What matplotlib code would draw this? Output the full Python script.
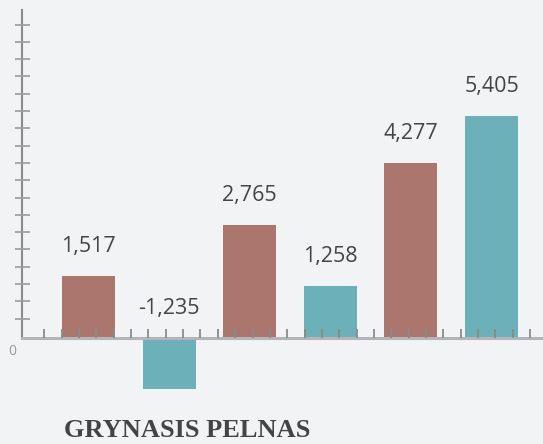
import numpy as np
import matplotlib.pyplot as plt

# duomenys
values = [1517, -1235, 2765, 1258, 4277, 5405]
labels = ['1,517', '-1,235', '2,765', '1,258', '4,277', '5,405']
colors = ['#aa766d', '#6cb0b9', '#aa766d', '#6cb0b9', '#aa766d', '#6cb0b9']
title = 'GRYNASIS PELNAS'

W, H = 543, 444
bg = '#f2f3f5'
px_per_unit = 0.041          # vertical scale, pixels per value unit
bar_step = 80.6              # pixels between bar centres

fig = plt.figure(figsize=(W / 100, H / 100), dpi=100, facecolor=bg)
# axes: left 22px, top 10px, bottom 400px (from top)
ax = fig.add_axes([22 / W, (H - 400) / H, (W - 22) / W, 390 / H])
ax.set_facecolor(bg)
ax.set_axisbelow(False)

x = np.arange(len(values))
ax.bar(x, values, width=53 / bar_step, color=colors, zorder=1)

ax.set_xlim(-(88.5 - 22) / bar_step, -(88.5 - 22) / bar_step + (W - 22) / bar_step)
ax.set_ylim(-(400 - 338) / px_per_unit, (338 - 10) / px_per_unit)

for xi, v, lab in zip(x, values, labels):
    ax.annotate(lab, (xi, max(v, 0)), xytext=(0, 19 * 0.72), textcoords='offset points',
                ha='center', va='bottom', fontsize=15.5, family='Open Sans', color='#444444')

# spines
for s in ['top', 'right']:
    ax.spines[s].set_visible(False)
ax.spines['bottom'].set_position(('data', 0))
ax.spines['bottom'].set_color('#b4b5b8')
ax.spines['bottom'].set_linewidth(2.2)
ax.spines['left'].set_bounds(0, (338 - 10) / px_per_unit)
ax.spines['left'].set_color('#8a8a8a')
ax.spines['left'].set_linewidth(1.5)

# dekoratyvios padalos
x0 = (44.3 - 88.5) / bar_step
xt = x0 + np.arange(29) * 17.35 / bar_step
ax.set_xticks(xt)
ax.set_xticks(xt, minor=True)
ax.tick_params(axis='x', which='major', direction='in', length=9 * 0.72, width=1.3,
               color='#8a8a8a', labelbottom=False)
ax.tick_params(axis='x', which='minor', direction='out', length=5 * 0.72, width=1.3,
               color='#8a8a8a')
yt = (19.4 + np.arange(18) * 17.3) / px_per_unit
ax.set_yticks(yt)
ax.tick_params(axis='y', direction='inout', length=15 * 0.72, width=1.3,
               color='#a0a0a0', labelleft=False)

ax.annotate('0', (0, 0), xycoords=('axes fraction', 'data'), xytext=(-10 * 0.72, -13 * 0.72),
            textcoords='offset points', ha='center', va='center', fontsize=10,
            family='Open Sans', color='#9a9a9a')

fig.text(64 / W, 1 - 437 / H, title, fontsize=19, fontweight='bold', family='Liberation Serif',
         color='#444444', ha='left', va='baseline')

plt.savefig('out.png', dpi=100, facecolor=bg)
plt.close()
